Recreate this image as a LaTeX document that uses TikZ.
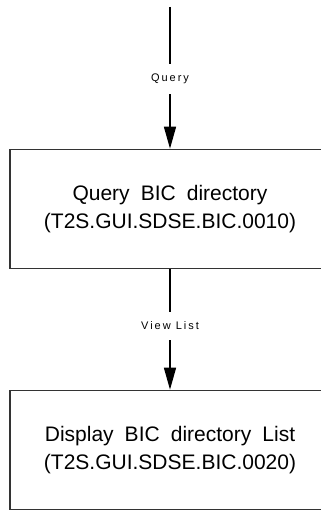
\documentclass[tikz,border=0pt]{standalone}
\usepackage{fontspec}
\setmainfont{Liberation Sans}[WordSpace=1.9]
\newfontfamily\lblfont[LetterSpace=18]{Liberation Sans}
\usetikzlibrary{arrows.meta,positioning}

\begin{document}
\begin{tikzpicture}[
    x=1pt, y=1pt,
    every node/.style={font=\fontsize{21}{28}\selectfont},
    fn/.style={rectangle, draw=black!80, line width=1.6pt, minimum width=320pt,
               minimum height=119pt, inner sep=0pt, align=center},
    e/.style={-{Triangle[length=22pt, width=12pt]}, line width=1.4pt},
    lbl/.style={font=\lblfont\fontsize{11}{13}\selectfont, fill=white,
                inner xsep=2pt, inner ysep=10pt},
  ]
  \clip (0,0) rectangle (321,-511);
  \node[fn] (query) at (170,-209) {Query BIC directory\\(T2S.GUI.SDSE.BIC.0010)};
  \node[fn] (list) at (170,-450) {Display BIC directory List\\(T2S.GUI.SDSE.BIC.0020)};
  \coordinate (in) at (170,-7);
  \draw[e] (in) -- node[lbl, pos=0.51] {Query} (query.north);
  \draw[e] (query.south) -- node[lbl, pos=0.47] {View List} (list.north);
\end{tikzpicture}
\end{document}
